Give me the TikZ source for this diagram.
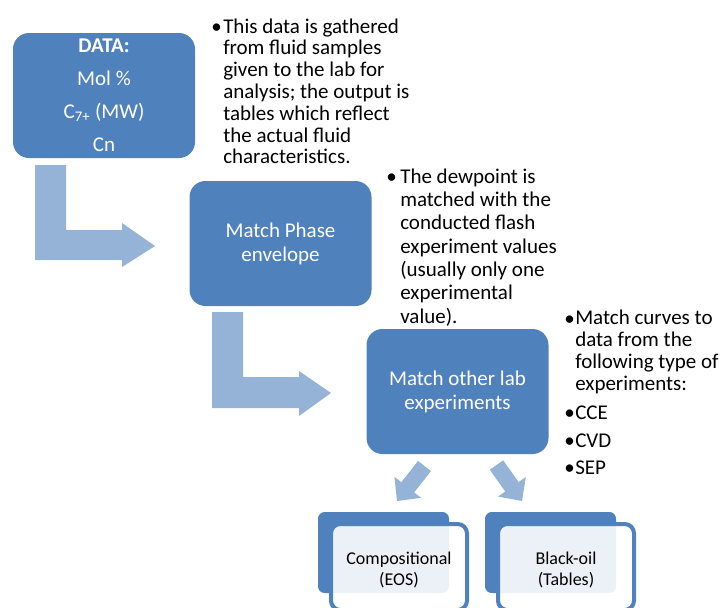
\documentclass[tikz,border=0pt]{standalone}
\usepackage{fontspec}
\setmainfont{Carlito}
\definecolor{accent}{HTML}{4F81BD}
\definecolor{arrowfill}{HTML}{95B3D7}
\definecolor{ink}{HTML}{000000}

\tikzset{
  stage/.style={fill=accent, rounded corners=12pt, minimum width=136.5pt,
    minimum height=93.75pt, inner sep=0pt, text=white, align=center},
  bodyfont/.style={font=\fontsize{15.75}{#1}\selectfont},
  % a multi-line note sits on the baseline of its last line
  note/.style={anchor=base west, inner sep=0pt, align=left, text=ink},
  dot/.style={anchor=base west, inner sep=0pt, text=ink, font=\fontsize{15.75}{18}\selectfont},
  blockarrow/.style={fill=arrowfill, draw=none},
  tab/.style={fill=accent, rounded corners=5pt},
  frame/.style={draw=accent, line width=3pt, rounded corners=7pt},
  veil/.style={fill=white, fill opacity=0.89, rounded corners=7pt},
  result/.style={inner sep=0pt, align=center, text=ink, font=\fontsize{13.5}{15.75}\selectfont}
}

\begin{document}
\begin{tikzpicture}[x=0.75pt, y=-0.75pt]
\useasboundingbox (0,0) rectangle (723,607);

% three process stages
\node[stage, bodyfont=24.75] (data) at (104,95.5)
  {\textbf{DATA:}\\Mol \%\\C\textsubscript{7+} (MW)\\Cn};
\node[stage, bodyfont=18] (phase) at (280.5,243.5) {Match Phase\\envelope};
\node[stage, bodyfont=18] (lab) at (457.5,391.5) {Match other lab\\experiments};

% bent arrows between stages
\fill[blockarrow] (35,165) -- (66,165) -- (66,230) -- (122,230) -- (122,223)
  -- (155,246) -- (122,267) -- (122,260) -- (35,260) -- cycle;
\fill[blockarrow] (212,312) -- (243,312) -- (243,377) -- (299,377) -- (299,371)
  -- (331,393) -- (299,416) -- (299,408) -- (212,408) -- cycle;

% diagonal arrows towards the two model types
\fill[blockarrow] (430.9,471.1) -- (414.2,492.4) -- (421.1,497.8) -- (397,501)
  -- (394.4,476.8) -- (401.3,482.2) -- (418.05,460.9) -- cycle;
\fill[blockarrow] (503.2,460.3) -- (518.6,482.1) -- (525.8,477) -- (522,501)
  -- (498,496.6) -- (505.2,491.5) -- (489.8,469.7) -- cycle;

% model cards
\fill[tab] (318,512) rectangle (449,593);
\fill[veil] (331,524) rectangle (467,610);
\draw[frame] (331,524) rectangle (467,610);
\node[result] (eos) at (399,570) {Compositional\\(EOS)};

\fill[tab] (485,512) rectangle (616,593);
\fill[veil] (498,524) rectangle (634,610);
\draw[frame] (498,524) rectangle (634,610);
\node[result] (bo) at (566,570) {Black-oil\\(Tables)};

% notes beside the stages
\node[dot] (b1) at (211,33) {•};
\node[note, bodyfont=16.35] (n1) at (223,163.8)
  {This data is gathered\\from fluid samples\\given to the lab for\\analysis; the output is\\tables which reflect\\the actual fluid\\characteristics.};

\node[dot] (b2) at (386,183.3) {•};
\node[note, bodyfont=17.5] (n2) at (400,323)
  {The dewpoint is\\matched with the\\conducted flash\\experiment values\\(usually only one\\experimental\\value).};

\node[dot] (b3) at (564,325) {•};
\node[note, bodyfont=16.3] (n3) at (575,390)
  {Match curves to\\data from the\\following type of\\experiments:};
\node[dot] (b4) at (564,419) {•};
\node[note, bodyfont=16.3] (n4) at (575,419) {CCE};
\node[dot] (b5) at (564,447) {•};
\node[note, bodyfont=16.3] (n5) at (575,447) {CVD};
\node[dot] (b6) at (564,474) {•};
\node[note, bodyfont=16.3] (n6) at (575,474) {SEP};
\end{tikzpicture}
\end{document}
